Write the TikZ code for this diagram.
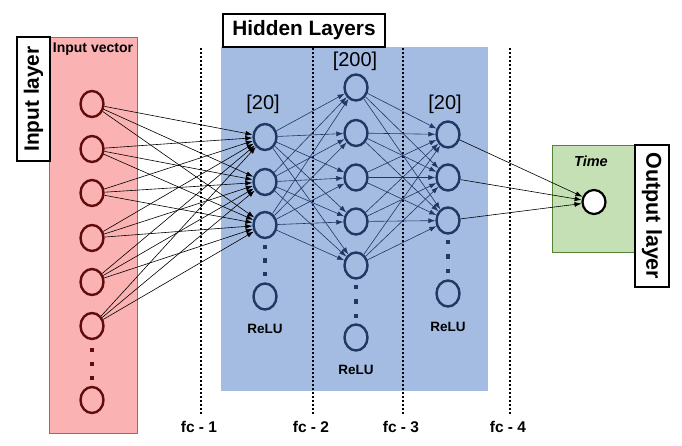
\documentclass[tikz,border=0pt]{standalone}
\usepackage{fontspec}
\setmainfont{Liberation Sans}
\usetikzlibrary{shapes.geometric,arrows.meta}
\definecolor{inred}{RGB}{96,12,12}
\definecolor{hidblue}{RGB}{31,56,100}
\definecolor{pinkfill}{RGB}{250,178,178}
\definecolor{pinkedge}{RGB}{140,120,70}
\definecolor{bluefill}{RGB}{164,188,226}
\definecolor{greenfill}{RGB}{197,224,180}
\definecolor{greenedge}{RGB}{84,130,53}

\begin{document}
\begin{tikzpicture}[x=1pt,y=-1pt,
	neuron/.style={ellipse,minimum width=23pt,minimum height=26pt,inner sep=0pt,line width=2.4pt},
	inneuron/.style={neuron,draw=inred},
	hidneuron/.style={neuron,draw=hidblue},
	wire/.style={line width=0.6pt,-{Latex[length=7pt,width=5pt]}},
	fcline/.style={line width=2.4pt,dash pattern=on 2.4pt off 1.6pt},
	fclabel/.style={font=\bfseries\fontsize{15.5}{17}\selectfont},
	relu/.style={font=\bfseries\fontsize{13.5}{15}\selectfont},
	size/.style={font=\fontsize{20}{22}\selectfont},
	titlebox/.style={draw,fill=white,line width=1.4pt,inner sep=0pt,font=\bfseries\fontsize{20.8}{23}\selectfont}]
	\useasboundingbox (0,0) rectangle (682,446);
	% backgrounds
	\fill[pinkfill,draw=pinkedge,line width=0.8pt] (49,37) rectangle (137,433);
	\fill[bluefill] (221,47) rectangle (488,391);
	\fill[greenfill,draw=greenedge,line width=0.8pt] (552,145) rectangle (634,252);
	% fc separators
	\foreach \x/\n in {201/1,313/2,403/3,510/4} {
		\draw[fcline] (\x,48) -- (\x,415);
		\node[fclabel] at (\x-2,427) {fc - \n};
	}
	% titles
	\node[titlebox,rotate=90,minimum width=124pt,minimum height=33pt] (inlabel) at (33.5,99) {Input layer};
	\node[titlebox,minimum width=162pt,minimum height=33pt] (hidlabel) at (304,30.5) {Hidden Layers};
	\node[titlebox,rotate=-90,minimum width=142pt,minimum height=34pt,font=\bfseries\fontsize{21.5}{23}\selectfont] (outlabel) at (652,216) {Output layer};
	\node[font=\bfseries\fontsize{14}{16}\selectfont] at (93,49) {Input vector};
	\node[font=\bfseries\itshape\fontsize{14.5}{16}\selectfont] at (591,161) {Time};
	% neurons
	\foreach \y [count=\i] in {104,149,193,238,282,326}
		\node[inneuron] (in\i) at (92,\y) {};
	\node[inneuron] (in7) at (92,400) {};
	\foreach \y [count=\i] in {137,182,225}
		\node[hidneuron] (ha\i) at (265,\y) {};
	\node[hidneuron] (ha4) at (265,296.5) {};
	\foreach \y [count=\i] in {87.5,133,177.5,221.5,265.5}
		\node[hidneuron] (hb\i) at (356,\y) {};
	\node[hidneuron] (hb6) at (356,337.5) {};
	\foreach \y [count=\i] in {134.5,177.5,220.5}
		\node[hidneuron] (hc\i) at (448,\y) {};
	\node[hidneuron] (hc4) at (448,293.5) {};
	\node[neuron,draw=black,fill=white,minimum width=23pt,minimum height=24pt,line width=2.2pt] (out) at (594,202) {};
	% vertical dots
	\foreach \x/\ya/\yb/\yc/\c in {92/350/364/378/inred,265/247/260.5/274/hidblue,356/287/301.5/316/hidblue,448/242/256.5/271/hidblue}
		\foreach \y in {\ya,\yb,\yc}
			\fill[\c] (\x-2.2,\y-2.2) rectangle (\x+2.2,\y+2.2);
	% layer sizes
	\node[size] at (263,104) {[20]};
	\node[size] at (355,61) {[200]};
	\node[size] at (445,104) {[20]};
	\node[relu] at (265,329) {ReLU};
	\node[relu] at (356,370) {ReLU};
	\node[relu] at (448,327) {ReLU};
	% connections
	\foreach \i in {1,...,6}
		\foreach \j in {1,2,3}
			\draw[wire,black] (in\i) -- (ha\j);
	\foreach \i in {1,2,3}
		\foreach \j in {1,...,5}
			\draw[wire,hidblue] (ha\i) -- (hb\j);
	\foreach \i in {1,...,5}
		\foreach \j in {1,2,3}
			\draw[wire,hidblue] (hb\i) -- (hc\j);
	\foreach \i in {1,2,3}
		\draw[wire,black] (hc\i) -- (out);
\end{tikzpicture}
\end{document}
